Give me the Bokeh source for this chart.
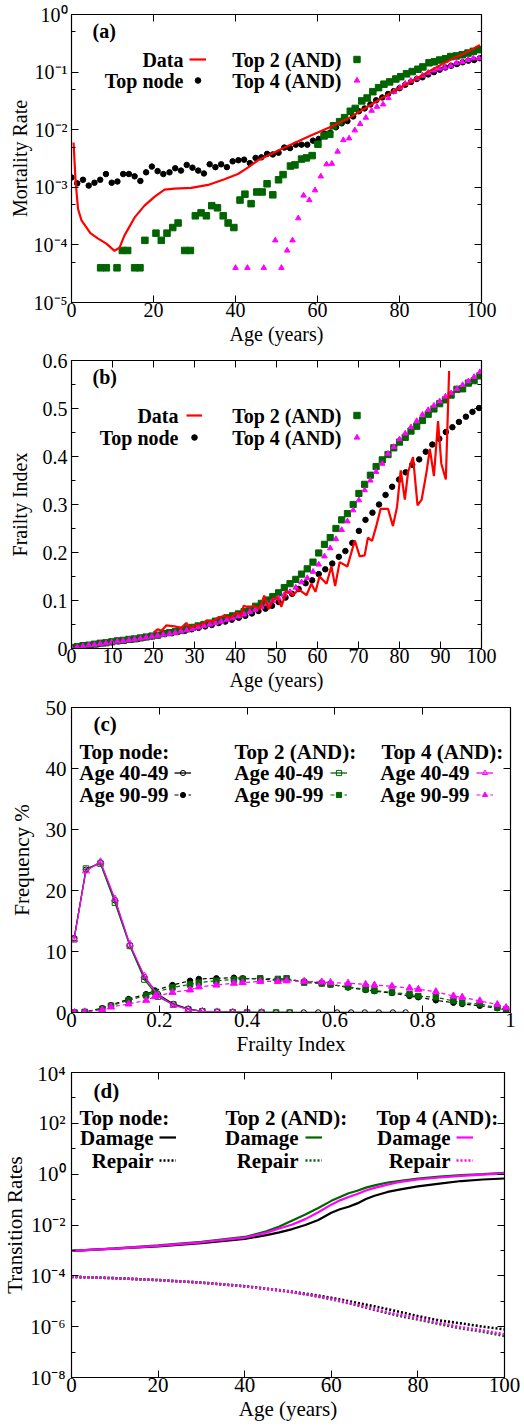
from bokeh.plotting import figure
from bokeh.models import (Range1d, FixedTicker, LinearAxis, LogAxis, CustomJSTickFormatter,
                          Label, Legend, LegendItem)
from bokeh.layouts import column
from bokeh.embed import file_html
from bokeh.resources import INLINE

FONT = "Liberation Serif"
GREEN = "#006400"
MAGENTA = "#ff00ff"
RED = "#ff0000"

# ---------------- Panel (a): mortality rate ----------------
age_grid = [0.0, 1.4, 2.8, 4.2, 5.6, 7.0, 8.4, 9.8, 11.2, 12.6, 14.0, 15.4, 16.8, 18.2, 19.6,
            21.0, 22.4, 23.9, 25.3, 26.7, 28.1, 29.5, 30.9, 32.3, 33.7, 35.1, 36.5, 37.9, 39.3,
            40.7, 42.1, 43.5, 44.9, 46.3, 47.7, 49.1, 50.5, 51.9, 53.3, 54.7, 56.1, 57.5, 58.9,
            60.3, 61.7, 63.1, 64.5, 65.9, 67.3, 68.7, 70.1, 71.5, 72.9, 74.3, 75.8, 77.2, 78.6,
            80.0, 81.4, 82.8, 84.2, 85.6, 87.0, 88.4, 89.8, 91.2, 92.6, 94.0, 95.4, 96.8, 98.2, 99.6]
mort_top = [1.48e-3, 1.17e-3, 1.35e-3, 1.07e-3, 1.20e-3, 1.35e-3, 1.70e-3, 1.20e-3, 1.26e-3, 1.70e-3,
            1.70e-3, 1.55e-3, 1.29e-3, 1.82e-3, 2.29e-3, 1.91e-3, 1.70e-3, 1.82e-3, 2.14e-3, 1.95e-3,
            2.45e-3, 2.19e-3, 1.95e-3, 1.74e-3, 2.51e-3, 2.24e-3, 2.51e-3, 2.24e-3, 2.82e-3, 2.95e-3,
            3.02e-3, 2.63e-3, 3.24e-3, 3.31e-3, 3.80e-3, 3.72e-3, 3.98e-3, 4.90e-3, 4.79e-3, 5.50e-3,
            5.50e-3, 5.50e-3, 6.46e-3, 6.92e-3, 8.51e-3, 8.91e-3, 1.10e-2, 1.29e-2, 1.41e-2, 1.70e-2,
            2.09e-2, 2.34e-2, 2.75e-2, 3.24e-2, 3.63e-2, 4.17e-2, 4.68e-2, 5.25e-2, 6.03e-2, 6.76e-2,
            7.59e-2, 8.13e-2, 9.12e-2, 0.100, 0.110, 0.120, 0.129, 0.138, 0.148, 0.158, 0.162, 0.174]
age_a_t2 = [7.1, 8.5, 11.1, 12.4, 13.7, 15.4, 16.7, 17.9, 20.6, 21.9, 23.3, 24.7, 26.0, 27.6, 29.0,
            30.2, 31.6, 32.9, 34.2, 35.6, 37.0, 38.2, 39.6, 41.1, 42.3, 43.8, 45.2, 46.5, 47.7, 49.1,
            50.5, 51.6, 53.4, 54.5, 56.1, 57.3, 58.7, 60.1, 61.6, 63.0, 63.9, 65.4, 66.6, 68.0, 69.2,
            70.8, 72.1, 73.5, 74.9, 76.2, 77.6, 79.1, 80.3, 81.7, 83.1, 84.5, 85.7, 87.2, 88.5, 89.8,
            91.2, 92.5, 93.9, 95.3, 96.7, 98.0, 99.4]
mort_t2 = [4e-5, 4e-5, 4e-5, 8e-5, 8e-5, 4e-5, 4e-5, 1.2e-4, 1.6e-4, 1.2e-4, 1.6e-4, 2.0e-4, 2.4e-4,
           8e-5, 8e-5, 3.2e-4, 3.6e-4, 3.2e-4, 4.8e-4, 4.4e-4, 3.2e-4, 2.4e-4, 2.0e-4, 6.0e-4, 7.6e-4,
           5.2e-4, 8.3e-4, 8.3e-4, 1.15e-3, 7.4e-4, 1.35e-3, 1.66e-3, 2.34e-3, 2.45e-3, 3.09e-3,
           3.24e-3, 3.55e-3, 5.6e-3, 7.8e-3, 8.3e-3, 1.17e-2, 1.38e-2, 1.62e-2, 2.09e-2, 2.34e-2,
           3.16e-2, 3.55e-2, 4.57e-2, 5.37e-2, 6.17e-2, 6.76e-2, 7.59e-2, 8.32e-2, 9.33e-2, 0.102,
           0.112, 0.123, 0.145, 0.151, 0.162, 0.170, 0.186, 0.191, 0.200, 0.214, 0.229, 0.245]
age_a_t4 = [40.0, 42.9, 46.9, 49.7, 51.2, 52.6, 53.9, 55.3, 56.6, 58.0, 59.4, 60.8, 62.2, 63.5, 64.9,
            66.3, 67.7, 69.1, 70.4, 71.8, 73.2, 74.5, 76.0, 77.3, 78.7, 80.1, 81.4, 82.8, 84.2, 85.6,
            87.0, 88.4, 89.7, 91.1, 92.5, 93.9, 95.3, 96.7, 98.0, 99.4]
mort_t4 = [4e-5, 4e-5, 4e-5, 1.2e-4, 4e-5, 8e-5, 1.2e-4, 2.9e-4, 7.2e-4, 6.0e-4, 8.9e-4, 1.55e-3,
           2.51e-3, 2.57e-3, 4.17e-3, 6.61e-3, 7.08e-3, 9.77e-3, 1.26e-2, 1.62e-2, 2.14e-2, 2.51e-2,
           2.75e-2, 3.55e-2, 4.57e-2, 5.37e-2, 6.31e-2, 7.08e-2, 7.76e-2, 8.71e-2, 9.77e-2, 0.107,
           0.115, 0.120, 0.129, 0.145, 0.151, 0.162, 0.174, 0.174]
age_a_data = [0.5, 1.0, 1.6, 2.4, 4.6, 6.4, 8.5, 10.5, 11.7, 12.9, 15.4, 17.8, 20.3, 22.7, 25.1, 29.2,
              33.3, 37.3, 40.6, 43.0, 45.5, 48.7, 52.0, 58.1, 63.0, 67.9, 72.7, 77.6, 82.5, 87.4,
              92.3, 97.1, 99.6]
mort_data = [6.0e-3, 1.26e-3, 4.2e-4, 2.7e-4, 1.6e-4, 1.3e-4, 1.05e-4, 7.9e-5, 8.9e-5, 1.45e-4,
             3.0e-4, 4.8e-4, 6.9e-4, 9.1e-4, 9.5e-4, 9.8e-4, 1.1e-3, 1.38e-3, 1.7e-3, 2.19e-3,
             2.95e-3, 3.8e-3, 4.9e-3, 7.8e-3, 1.1e-2, 1.62e-2, 2.63e-2, 4.27e-2, 6.6e-2, 0.105,
             0.162, 0.234, 0.295]

# ---------------- Panel (b): frailty index ----------------
age_b_top = [0.0, 1.6, 3.3, 4.9, 6.5, 8.2, 9.8, 11.4, 13.0, 14.7, 16.3, 17.9, 19.6, 21.2, 22.8, 24.5,
             26.1, 27.7, 29.3, 31.0, 32.6, 34.2, 35.9, 37.5, 39.1, 40.8, 42.4, 44.0, 45.6, 47.3,
             48.9, 50.5, 52.2, 53.8, 55.4, 57.1, 58.7, 60.3, 61.9, 63.6, 65.2, 66.8, 68.5, 70.1,
             71.7, 73.4, 75.0, 76.6, 78.2, 79.9, 81.5, 83.1, 84.8, 86.4, 88.0, 89.7, 91.3, 92.9,
             94.5, 96.2, 97.8, 99.4]
fi_top = [0.001, 0.003, 0.005, 0.007, 0.009, 0.011, 0.013, 0.015, 0.016, 0.018, 0.020, 0.023, 0.025,
          0.027, 0.030, 0.032, 0.035, 0.037, 0.040, 0.043, 0.046, 0.049, 0.053, 0.056, 0.060, 0.064,
          0.068, 0.073, 0.078, 0.083, 0.089, 0.097, 0.106, 0.114, 0.124, 0.136, 0.142, 0.155, 0.165,
          0.177, 0.191, 0.203, 0.220, 0.245, 0.268, 0.283, 0.300, 0.320, 0.337, 0.352, 0.367, 0.383,
          0.394, 0.410, 0.425, 0.437, 0.451, 0.461, 0.472, 0.483, 0.493, 0.501]
fi_t2 = [0.002, 0.004, 0.006, 0.007, 0.009, 0.011, 0.012, 0.014, 0.016, 0.017,
         0.019, 0.020, 0.022, 0.024, 0.026, 0.028, 0.031, 0.033, 0.035, 0.038,
         0.041, 0.044, 0.047, 0.050, 0.053, 0.057, 0.060, 0.064, 0.068, 0.072,
         0.077, 0.082, 0.088, 0.094, 0.101, 0.108, 0.116, 0.127, 0.135, 0.144,
         0.155, 0.166, 0.180, 0.199, 0.217, 0.231, 0.250, 0.268, 0.281, 0.300,
         0.323, 0.342, 0.361, 0.379, 0.393, 0.404, 0.418, 0.430, 0.440, 0.453,
         0.463, 0.475, 0.488, 0.499, 0.510, 0.518, 0.528, 0.540, 0.541, 0.553, 0.558, 0.568]
fi_t4 = [0.001, 0.003, 0.005, 0.007, 0.008, 0.010, 0.011, 0.013, 0.015, 0.016,
         0.018, 0.019, 0.021, 0.023, 0.025, 0.027, 0.029, 0.031, 0.033, 0.036,
         0.038, 0.041, 0.044, 0.047, 0.050, 0.053, 0.056, 0.060, 0.063, 0.067,
         0.071, 0.076, 0.081, 0.087, 0.093, 0.099, 0.105, 0.112, 0.118, 0.127,
         0.138, 0.147, 0.160, 0.175, 0.192, 0.209, 0.228, 0.247, 0.265, 0.288,
         0.309, 0.330, 0.350, 0.368, 0.385, 0.406, 0.420, 0.436, 0.448, 0.461,
         0.474, 0.487, 0.497, 0.506, 0.515, 0.525, 0.532, 0.541, 0.549, 0.557, 0.566, 0.576]
age_b_data = [20.0, 21.0, 22.0, 23.1, 25.1, 26.8, 28.0, 29.0, 30.4, 31.7, 32.9, 34.3, 35.7, 37.3,
              39.0, 40.2, 41.4, 42.0, 43.4, 44.5, 45.9, 47.0, 48.1, 49.3, 50.2, 51.2, 52.4, 54.0,
              55.4, 57.3, 58.5, 59.5, 60.5, 62.2, 63.4, 64.3, 65.4, 67.3, 69.1, 70.3, 71.5, 72.3,
              73.3, 74.4, 75.4, 77.2, 78.4, 79.4, 80.3, 81.3, 82.1, 83.3, 84.4, 85.4, 86.6, 87.4,
              88.4, 89.4, 90.2, 91.3, 92.1]
fi_data = [0.033, 0.040, 0.037, 0.048, 0.046, 0.043, 0.053, 0.043, 0.049, 0.050, 0.058, 0.056,
           0.064, 0.068, 0.064, 0.075, 0.070, 0.089, 0.085, 0.089, 0.082, 0.110, 0.082, 0.104,
           0.106, 0.087, 0.120, 0.111, 0.123, 0.111, 0.135, 0.118, 0.150, 0.135, 0.171, 0.130,
           0.180, 0.171, 0.225, 0.192, 0.194, 0.231, 0.224, 0.257, 0.291, 0.291, 0.255, 0.295,
           0.371, 0.310, 0.368, 0.399, 0.298, 0.310, 0.368, 0.416, 0.359, 0.474, 0.385, 0.352, 0.578]

# ---------------- Panel (c): FI distributions ----------------
fi_40 = [0.006, 0.033, 0.066, 0.099, 0.133, 0.166, 0.197, 0.232, 0.266, 0.298, 0.332, 0.367,
         0.400, 0.433, 0.466, 0.497, 0.529, 0.562, 0.605, 0.637, 0.668, 0.700, 0.732, 0.761]
freq_top_40 = [12.2, 23.4, 24.6, 18.4, 11.0, 5.8, 3.0, 1.4, 0.6, 0.2, 0.1, 0.05,
               0, 0, 0, 0, 0, 0, 0, 0, 0, 0, 0, 0]
freq_t2_40 = [12.0, 23.6, 24.4, 18.0, 10.9, 5.4, 2.6, 1.3, 0.5, 0.2, 0.1, 0.05, 0, 0, 0, 0]
freq_t4_40 = [12.0, 23.2, 24.7, 18.6, 11.2, 6.0, 2.8, 1.2, 0.5, 0.2, 0.1, 0.05, 0, 0]
fi_90 = [0.007, 0.030, 0.070, 0.090, 0.130, 0.170, 0.190, 0.230, 0.270, 0.290, 0.330, 0.370,
         0.390, 0.430, 0.470, 0.490, 0.530, 0.570, 0.590, 0.630, 0.670, 0.690, 0.730, 0.770,
         0.790, 0.830, 0.870, 0.890, 0.930, 0.970, 0.990]
freq_top_90 = [0, 0.1, 0.7, 1.2, 2.2, 3.0, 3.6, 4.5, 5.2, 5.5, 5.6, 5.7, 5.6, 5.5, 5.3, 5.4,
               5.1, 4.8, 4.6, 4.1, 3.7, 3.5, 3.2, 2.7, 2.5, 2.0, 1.6, 1.4, 1.1, 0.7, 0.4]
freq_t2_90 = [0, 0.1, 0.6, 1.1, 2.0, 2.8, 3.3, 4.1, 4.6, 4.9, 5.2, 5.4, 5.5, 5.6, 5.5, 5.6,
              4.9, 4.75, 4.6, 4.2, 3.8, 3.6, 3.3, 3.0, 2.7, 2.5, 1.9, 1.6, 1.4, 0.8, 0.5]
freq_t4_90 = [0, 0.1, 0.4, 0.9, 1.4, 2.0, 2.6, 3.3, 3.7, 4.2, 4.5, 4.8, 4.9, 5.1, 5.1, 5.2,
              5.1, 5.0, 4.9, 4.8, 4.6, 4.5, 4.3, 4.0, 3.8, 3.4, 2.7, 2.5, 1.9, 1.3, 0.8]

# ---------------- Panel (d): transition rates ----------------
age_dmg = [0, 10, 20, 30, 40, 45, 48, 51, 54, 57, 60, 62, 64, 66, 68, 70, 73, 76, 80, 85, 90, 95, 100]
dmg_top = [9.55e-4, 1.17e-3, 1.45e-3, 1.95e-3, 2.82e-3, 3.98e-3, 5.13e-3, 6.92e-3, 1.0e-2, 1.58e-2,
           3.02e-2, 4.17e-2, 5.25e-2, 7.08e-2, 0.105, 0.141, 0.20, 0.251, 0.331, 0.427, 0.537,
           0.617, 0.676]
dmg_t2 = [9.55e-4, 1.20e-3, 1.58e-3, 2.19e-3, 3.39e-3, 5.62e-3, 8.71e-3, 1.51e-2, 2.57e-2, 4.68e-2,
          8.91e-2, 0.126, 0.178, 0.224, 0.295, 0.363, 0.468, 0.550, 0.676, 0.794, 0.912, 1.0, 1.12]
dmg_t4 = [9.55e-4, 1.17e-3, 1.51e-3, 2.09e-3, 3.16e-3, 5.01e-3, 7.24e-3, 1.05e-2, 1.70e-2, 3.16e-2,
          6.31e-2, 9.33e-2, 0.126, 0.166, 0.229, 0.288, 0.389, 0.501, 0.617, 0.741, 0.851, 0.955, 1.07]
age_rep = [0, 10, 20, 30, 40, 50, 55, 60, 65, 70, 75, 80, 85, 90, 95, 100]
rep_top = [9.1e-5, 8.1e-5, 6.8e-5, 5.4e-5, 3.9e-5, 2.5e-5, 1.9e-5, 1.38e-5, 9.3e-6, 6.3e-6, 4.1e-6,
           2.6e-6, 1.74e-6, 1.35e-6, 1.0e-6, 7.8e-7]
rep_t2 = [9.1e-5, 8.1e-5, 6.8e-5, 5.4e-5, 3.9e-5, 2.4e-5, 1.74e-5, 1.2e-5, 7.6e-6, 4.5e-6, 2.8e-6,
          1.9e-6, 1.26e-6, 8.5e-7, 6.3e-7, 4.3e-7]
rep_t4 = [9.1e-5, 8.1e-5, 6.8e-5, 5.4e-5, 3.9e-5, 2.45e-5, 1.78e-5, 1.26e-5, 7.9e-6, 4.8e-6, 3.1e-6,
          2.1e-6, 1.38e-6, 9.5e-7, 7.1e-7, 5.0e-7]

# ---------------- helpers ----------------
SUP = """
const m = {"0":"\u2070","1":"\u00b9","2":"\u00b2","3":"\u00b3","4":"\u2074","5":"\u2075",
           "6":"\u2076","7":"\u2077","8":"\u2078","9":"\u2079","-":"\u207b"};
const e = Math.round(Math.log10(tick));
return "10" + String(e).split("").map(c => m[c]).join("");
"""
DEC = """
const s = tick.toFixed(1);
return s.endsWith(".0") ? s.slice(0, -2) : s;
"""


def style(ax, fs):
    ax.major_label_text_font = FONT
    ax.major_label_text_font_size = f"{fs}px"
    ax.major_label_text_color = "black"
    ax.axis_label_text_font = FONT
    ax.axis_label_text_font_size = f"{fs}px"
    ax.axis_label_text_font_style = "normal"
    ax.axis_label_text_color = "black"
    ax.axis_line_color = "black"
    ax.major_tick_line_color = "black"
    ax.minor_tick_line_color = "black"
    ax.major_tick_in = 7
    ax.major_tick_out = 0
    ax.minor_tick_in = 4
    ax.minor_tick_out = 0
    ax.major_label_standoff = 0
    ax.axis_label_standoff = 0


def make_fig(fw, fh, bl, bt, bb, br, xr, yr, ylog, xticks, yticks, yminor, fs, xlabel, ylabel,
             ystand, ylstand, xlstand, xfmt=None, yfmt=None):
    p = figure(frame_width=fw, frame_height=fh, x_range=Range1d(*xr), y_range=Range1d(*yr),
               y_axis_type="log" if ylog else "linear", output_backend="svg",
               toolbar_location=None, min_border_left=bl, min_border_top=bt,
               min_border_bottom=bb, min_border_right=br)
    p.grid.visible = False
    p.outline_line_color = "black"
    p.outline_line_width = 1.2
    p.background_fill_color = "white"
    p.border_fill_color = "white"
    xt = FixedTicker(ticks=xticks, minor_ticks=[])
    yt = FixedTicker(ticks=yticks, minor_ticks=yminor)
    p.xaxis.ticker = xt
    p.yaxis.ticker = yt
    if xfmt:
        p.xaxis.formatter = CustomJSTickFormatter(code=xfmt)
    if yfmt:
        p.yaxis.formatter = CustomJSTickFormatter(code=yfmt)
    p.xaxis.axis_label = xlabel
    p.yaxis.axis_label = ylabel
    for ax in list(p.xaxis) + list(p.yaxis):
        style(ax, fs)
    for ax in p.xaxis:
        ax.axis_label_standoff = xlstand
    for ax in p.yaxis:
        ax.major_label_standoff = ystand
        ax.axis_label_standoff = ylstand
    top = LinearAxis(ticker=xt, formatter=CustomJSTickFormatter(code="return '';"))
    right = (LogAxis if ylog else LinearAxis)(ticker=yt,
                                              formatter=CustomJSTickFormatter(code="return '';"))
    for ax in (top, right):
        style(ax, fs)
        ax.major_label_text_font_size = "1px"
        ax.major_label_standoff = 0
    p.add_layout(top, "above")
    p.add_layout(right, "right")
    return p


def txt(p, fh, x, y, s, fs, align="right"):
    p.add_layout(Label(x=x, y=fh - y, x_units="screen", y_units="screen", text=s,
                       text_align=align, text_baseline="middle", text_font=FONT,
                       text_font_size=f"{fs}px", text_font_style="bold", text_color="black"))


def sample(p, fh, renderers, x, y, w, h):
    p.add_layout(Legend(items=[LegendItem(label=" ", renderers=renderers)],
                        location=(x, fh - y - h / 2), glyph_width=w, glyph_height=h,
                        label_width=0, label_height=h, label_standoff=0, padding=0, margin=0,
                        spacing=0, border_line_color=None, background_fill_alpha=0,
                        label_text_font_size="1px"))


# ---------------- (a) ----------------
FHa = 288
fa = make_fig(410, FHa, 67, 14, 48, 25, (0, 100), (1e-5, 1), True, [0, 20, 40, 60, 80, 100],
              [1e-5, 1e-4, 1e-3, 1e-2, 1e-1, 1], [5e-5, 5e-4, 5e-3, 5e-2, 5e-1], 20,
              "Age (years)", "Mortality Rate", 4, 0, 3, yfmt=SUP)
ra_top = fa.scatter(age_grid, mort_top, marker="circle", size=5.5, color="black")
ra_t2 = fa.scatter(age_a_t2, mort_t2, marker="square", size=6.5, color=GREEN)
ra_t4 = fa.scatter(age_a_t4, mort_t4, marker="triangle", size=5.5, color=MAGENTA)
ra_data = fa.line(age_a_data, mort_data, line_color=RED, line_width=2.2)
txt(fa, FHa, 21, 16, "(a)", 20, "left")
txt(fa, FHa, 112, 45, "Data", 20)
txt(fa, FHa, 112, 66, "Top node", 20)
txt(fa, FHa, 270, 45, "Top 2 (AND)", 20)
txt(fa, FHa, 270, 66, "Top 4 (AND)", 20)
sample(fa, FHa, [ra_data], 118, 45, 17, 10)
sample(fa, FHa, [ra_top], 118, 66, 17, 14)
sample(fa, FHa, [ra_t2], 277, 45, 17, 16)
sample(fa, FHa, [ra_t4], 277, 66, 17, 14)

# ---------------- (b) ----------------
FHb = 288
fb = make_fig(410, FHb, 67, 10, 48, 25, (0, 100), (0, 0.6), False,
              [0, 10, 20, 30, 40, 50, 60, 70, 80, 90, 100], [0, 0.1, 0.2, 0.3, 0.4, 0.5, 0.6],
              [0.05, 0.15, 0.25, 0.35, 0.45, 0.55], 20, "Age (years)", "Frailty Index", 4, 9, 3,
              yfmt=DEC)
rb_top = fb.scatter(age_b_top, fi_top, marker="circle", size=5.5, color="black")
rb_t2 = fb.scatter(age_grid, fi_t2, marker="square", size=6.2, color=GREEN)
rb_t4 = fb.scatter(age_grid, fi_t4, marker="triangle", size=5.5, color=MAGENTA)
rb_data = fb.line(age_b_data, fi_data, line_color=RED, line_width=2.2)
txt(fb, FHb, 21, 16, "(b)", 20, "left")
txt(fb, FHb, 107, 55, "Data", 20)
txt(fb, FHb, 107, 77, "Top node", 20)
txt(fb, FHb, 270, 55, "Top 2 (AND)", 20)
txt(fb, FHb, 270, 77, "Top 4 (AND)", 20)
sample(fb, FHb, [rb_data], 115, 55, 16, 10)
sample(fb, FHb, [rb_top], 115, 77, 16, 14)
sample(fb, FHb, [rb_t2], 277, 55, 17, 16)
sample(fb, FHb, [rb_t4], 277, 77, 17, 14)

# ---------------- (c) ----------------
FHc = 305
fc = make_fig(439, FHc, 65, 11, 49, 18, (0, 1), (0, 50), False, [0, 0.2, 0.4, 0.6, 0.8, 1],
              [0, 10, 20, 30, 40, 50], [], 21, "Frailty Index", "Frequency %", 5, 9, 2,
              xfmt=DEC)
series_c = [
    ("black", "circle", fi_40, freq_top_40, fi_90, freq_top_90, 5.5),
    (GREEN, "square", fi_40[:len(freq_t2_40)], freq_t2_40, fi_90, freq_t2_90, 5.5),
    (MAGENTA, "triangle", fi_40[:len(freq_t4_40)], freq_t4_40, fi_90, freq_t4_90, 7),
]
leg_c = []
for col, mk, x40, y40, x90, y90, sz in series_c:
    l40 = fc.line(x40, y40, line_color=col, line_width=1.3)
    s40 = fc.scatter(x40, y40, marker=mk, size=sz, line_color=col, fill_color=None, line_width=1)
    l90 = fc.line(x90, y90, line_color=col, line_width=1.2, line_dash="4 3")
    s90 = fc.scatter(x90, y90, marker=mk, size=sz, line_color=col, fill_color=col)
    leg_c.append(([l40, s40], [l90, s90]))
txt(fc, FHc, 22, 16, "(c)", 21, "left")
heads = ["Top node:", "Top 2 (AND):", "Top 4 (AND):"]
head_x = [8, 163, 310]
right_x = [97, 252, 398]
samp_x = [103, 259, 405]
for i in range(3):
    txt(fc, FHc, head_x[i], 44, heads[i], 21, "left")
    txt(fc, FHc, right_x[i], 65, "Age 40-49", 21)
    txt(fc, FHc, right_x[i], 87, "Age 90-99", 21)
    sample(fc, FHc, leg_c[i][0], samp_x[i], 65, 17, 13)
    sample(fc, FHc, leg_c[i][1], samp_x[i], 87, 17, 13)

# ---------------- (d) ----------------
FHd = 305
fd = make_fig(433, FHd, 71, 11, 48, 18, (0, 100), (1e-8, 1e4), True, [0, 20, 40, 60, 80, 100],
              [1e-8, 1e-6, 1e-4, 1e-2, 1, 1e2, 1e4], [1e-7, 1e-5, 1e-3, 1e-1, 1e1, 1e3], 21,
              "Age (years)", "Transition Rates", 6, 0, 2, yfmt=SUP)
leg_d = []
for col, dmg, rep in [("black", dmg_top, rep_top), (GREEN, dmg_t2, rep_t2), (MAGENTA, dmg_t4, rep_t4)]:
    ld = fd.line(age_dmg, dmg, line_color=col, line_width=2.2)
    lr = fd.line(age_rep, rep, line_color=col, line_width=2.6, line_dash="2 2")
    leg_d.append((ld, lr))
txt(fd, FHd, 22, 18, "(d)", 21, "left")
head_x = [8, 154, 305]
right_x = [82, 227, 379]
samp_x = [88, 234, 385]
for i in range(3):
    txt(fd, FHd, head_x[i], 45, heads[i], 21, "left")
    txt(fd, FHd, right_x[i], 65, "Damage", 21)
    txt(fd, FHd, right_x[i], 88, "Repair", 21)
    sample(fd, FHd, [leg_d[i][0]], samp_x[i], 65, 17, 10)
    sample(fd, FHd, [leg_d[i][1]], samp_x[i], 88, 17, 10)

layout = column(fa, fb, fc, fd, spacing=0)
open("out.html", "w").write(file_html(layout, INLINE))
